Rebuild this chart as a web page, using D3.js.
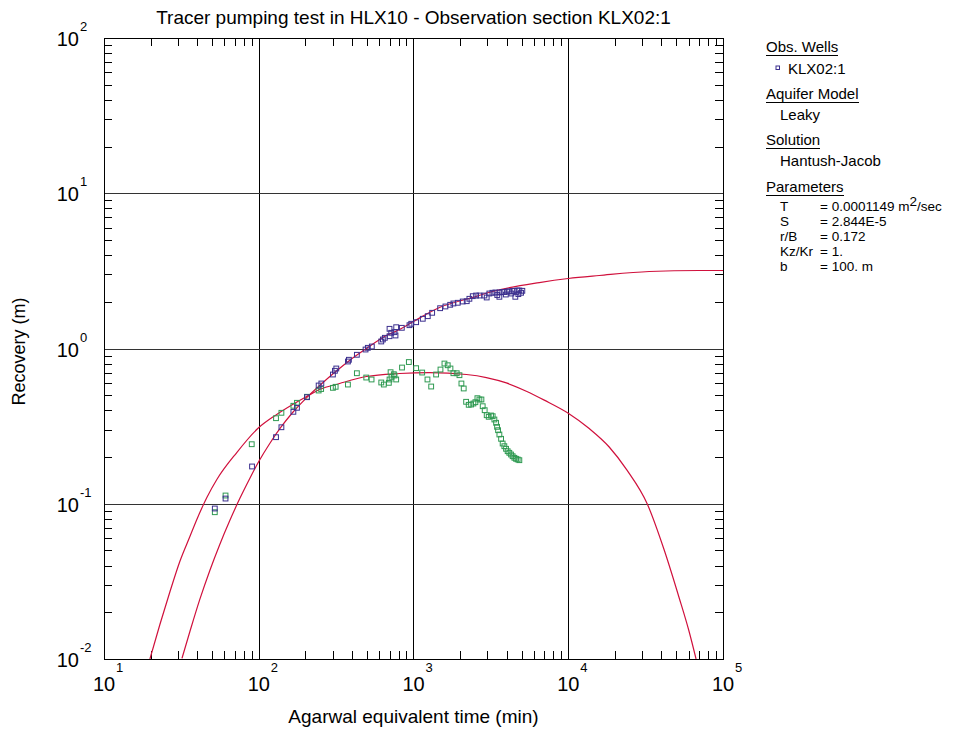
<!DOCTYPE html>
<html><head><meta charset="utf-8">
<script src="https://cdn.jsdelivr.net/npm/d3@7/dist/d3.min.js"></script>
<style>
body{margin:0;background:#fff;}
svg{display:block;font-family:Arial,"Liberation Sans",sans-serif;}
</style></head>
<body><svg id="chart" width="960" height="729"></svg>
<script>
// ---- Data ----
const titleText = "Tracer pumping test in HLX10 - Observation section KLX02:1";
const xLabel = "Agarwal equivalent time (min)";
const yLabel = "Recovery (m)";
const xTickExponents = [1, 2, 3, 4, 5];
const yTickExponents = [-2, -1, 0, 1, 2];

// observed recovery, KLX02:1
const wellTime = [52.0, 61.0, 90.5, 129.3, 140.1, 167.4, 176.6, 205, 243.8, 253.8, 301.5, 310.6, 317, 376.9, 382.5, 430.6, 490, 507, 538, 619, 634, 653, 700, 718, 700, 754, 765, 773, 840.5, 942, 967, 1040, 1148, 1237, 1320, 1486, 1608, 1726, 1811, 1932, 2080, 2208, 2297, 2415, 2538, 2666, 2871, 2972, 3092, 3236, 3381, 3478, 3589, 3589, 3751, 3864, 3950, 4038, 4160, 4290, 4354, 4486, 4550, 4690, 4760, 4830, 4955, 5050];
const wellRecovery = [0.0932, 0.108, 0.1738, 0.2684, 0.311, 0.391, 0.415, 0.4857, 0.5776, 0.595, 0.680, 0.7186, 0.7433, 0.8247, 0.846, 0.911, 0.985, 1.01, 1.03, 1.11, 1.143, 1.172, 1.20, 1.262, 1.339, 1.274, 1.213, 1.371, 1.359, 1.413, 1.443, 1.477, 1.554, 1.615, 1.698, 1.818, 1.865, 1.912, 1.95, 1.97, 2.008, 2.017, 2.09, 2.173, 2.194, 2.194, 2.194, 2.131, 2.261, 2.285, 2.295, 2.21, 2.295, 2.153, 2.312, 2.31, 2.227, 2.329, 2.329, 2.26, 2.347, 2.353, 2.153, 2.364, 2.24, 2.364, 2.285, 2.353];

// derivative of observed recovery
const derivTime = [52.0, 61.0, 90.1, 129.3, 140.1, 167.4, 176.6, 205, 243.8, 253, 301.5, 314, 376.9, 430.6, 495, 535.8, 619, 643, 693, 700, 711, 721, 746, 754, 773, 843, 933, 1040, 1138, 1231, 1301, 1400, 1494, 1585, 1664, 1733, 1811, 1902, 1981, 2040, 2111, 2188, 2274, 2357, 2438, 2512, 2588, 2666, 2747, 2800, 2884, 2972, 3062, 3170, 3248, 3332, 3417, 3467, 3520, 3589, 3681, 3767, 3864, 3963, 4058, 4160, 4268, 4371, 4486, 4598, 4710, 4830];
const derivRecovery = [0.0882, 0.113, 0.2418, 0.3557, 0.3853, 0.4276, 0.4469, 0.4886, 0.5363, 0.5483, 0.558, 0.5666, 0.586, 0.693, 0.650, 0.6316, 0.604, 0.586, 0.601, 0.6316, 0.7035, 0.657, 0.683, 0.670, 0.6316, 0.754, 0.818, 0.7468, 0.70, 0.6316, 0.569, 0.680, 0.732, 0.80, 0.78, 0.7433, 0.693, 0.693, 0.673, 0.595, 0.5527, 0.4536, 0.4338, 0.4357, 0.4422, 0.4509, 0.4786, 0.4694, 0.4694, 0.4249, 0.4005, 0.3718, 0.3631, 0.3702, 0.3664, 0.3489, 0.3322, 0.313, 0.2977, 0.2793, 0.262, 0.2443, 0.2348, 0.2259, 0.218, 0.2129, 0.2076, 0.2024, 0.1977, 0.1948, 0.1928, 0.1908];

// Hantush-Jacob type curve (recovery)
const modelTime = [31.9, 35.9, 41.6, 48.3, 56.0, 65.0, 75.4, 87.5, 100, 117.8, 138.7, 165.6, 204, 247.6, 309, 386, 497, 650, 812, 1000, 1472, 2404, 3236, 6501, 10000, 15849, 33340, 70000, 100000];
const modelRecovery = [0.0101, 0.01503, 0.0242, 0.0372, 0.0547, 0.078, 0.108, 0.1455, 0.187, 0.2445, 0.31, 0.387, 0.483, 0.578, 0.70, 0.837, 1.0, 1.195, 1.326, 1.493, 1.837, 2.131, 2.33, 2.66, 2.825, 2.952, 3.133, 3.18, 3.18];

// Hantush-Jacob type curve (derivative)
const modelDerivTime = [19.8, 22.97, 26.7, 30.9, 35.9, 39.8, 46.2, 53.6, 72.1, 98.5, 130.6, 165.6, 204, 247.6, 333, 497, 812, 1268, 2198, 2958, 3981, 5358, 7000, 10000, 13660, 18390, 24030, 32360, 41590, 52000, 60390, 66980];
const modelDerivValue = [0.01, 0.01668, 0.0272, 0.0425, 0.0615, 0.0792, 0.1097, 0.1433, 0.2138, 0.305, 0.3758, 0.4358, 0.491, 0.5445, 0.595, 0.66, 0.690, 0.70, 0.680, 0.65, 0.60, 0.531, 0.465, 0.383, 0.305, 0.232, 0.1640, 0.1, 0.0507, 0.0249, 0.01503, 0.01];

const legendSections = [
  {head: "Obs. Wells", items: ["KLX02:1"], marker: true},
  {head: "Aquifer Model", items: ["Leaky"]},
  {head: "Solution", items: ["Hantush-Jacob"]}
];
const paramNames = ["T", "S", "r/B", "Kz/Kr", "b"];
const paramValues = ["= 0.0001149 m", "= 2.844E-5", "= 0.172", "= 1.", "= 100. m"];

// ---- Chart ----
const svg = d3.select("#chart");
const L = 104, R = 723, T = 38, B = 659;
const x = d3.scaleLog().domain([10, 1e5]).range([L, R]);
const y = d3.scaleLog().domain([0.01, 100]).range([B, T]);
const blue = "#3b2f8e", green = "#2f9a52", red = "#d0103c";

svg.append("defs").append("clipPath").attr("id", "clip")
  .append("rect").attr("x", L).attr("y", T).attr("width", R - L).attr("height", B - T);

// grid
const g = svg.append("g").attr("shape-rendering", "crispEdges");
xTickExponents.slice(1, -1).forEach(e => {
  g.append("line").attr("x1", Math.round(x(Math.pow(10, e))) + 0.5).attr("x2", Math.round(x(Math.pow(10, e))) + 0.5)
    .attr("y1", T).attr("y2", B).attr("stroke", "#000");
});
yTickExponents.slice(1, -1).forEach(e => {
  g.append("line").attr("y1", Math.round(y(Math.pow(10, e))) + 0.5).attr("y2", Math.round(y(Math.pow(10, e))) + 0.5)
    .attr("x1", L).attr("x2", R).attr("stroke", "#333");
});

// minor ticks via axis generators (inside)
const xMinor = [];
for (let e = 1; e < 5; e++) for (let m = 2; m <= 9; m++) xMinor.push(m * Math.pow(10, e));
const yMinor = [];
for (let e = -2; e < 2; e++) for (let m = 2; m <= 9; m++) yMinor.push(m * Math.pow(10, e));
const tickLen = 8;
function styleAxis(sel) {
  sel.select(".domain").remove();
  sel.selectAll("text").remove();
  sel.selectAll("line").attr("stroke", "#000");
}
svg.append("g").attr("transform", `translate(0,${B})`).attr("shape-rendering", "crispEdges")
  .call(d3.axisBottom(x).tickValues(xMinor).tickSize(-tickLen)).call(styleAxis);
svg.append("g").attr("transform", `translate(0,${T})`).attr("shape-rendering", "crispEdges")
  .call(d3.axisTop(x).tickValues(xMinor).tickSize(-tickLen)).call(styleAxis);
svg.append("g").attr("transform", `translate(${L},0)`).attr("shape-rendering", "crispEdges")
  .call(d3.axisLeft(y).tickValues(yMinor).tickSize(-tickLen)).call(styleAxis);
svg.append("g").attr("transform", `translate(${R},0)`).attr("shape-rendering", "crispEdges")
  .call(d3.axisRight(y).tickValues(yMinor).tickSize(-tickLen)).call(styleAxis);

// frame
svg.append("rect").attr("x", L + 0.5).attr("y", T + 0.5).attr("width", R - L).attr("height", B - T)
  .attr("fill", "none").attr("stroke", "#000").attr("shape-rendering", "crispEdges");

// tick labels
xTickExponents.forEach(e => {
  const px = x(Math.pow(10, e));
  svg.append("text").attr("x", px).attr("y", 691).attr("font-size", 20).attr("text-anchor", "middle").text("10");
  svg.append("text").attr("x", px + 12).attr("y", 672).attr("font-size", 13).text(e);
});
yTickExponents.forEach(e => {
  const py = y(Math.pow(10, e));
  svg.append("text").attr("x", 79).attr("y", py + 8).attr("font-size", 20).attr("text-anchor", "end").text("10");
  svg.append("text").attr("x", 80).attr("y", py - 7).attr("font-size", 13).text(e);
});

// model curves
const plot = svg.append("g").attr("clip-path", "url(#clip)");
const line = d3.line().x(d => x(d[0])).y(d => y(d[1])).curve(d3.curveMonotoneX);
plot.append("path").datum(modelTime.map((t, i) => [t, modelRecovery[i]]))
  .attr("d", line).attr("fill", "none").attr("stroke", red).attr("stroke-width", 1.2);
plot.append("path").datum(modelDerivTime.map((t, i) => [t, modelDerivValue[i]]))
  .attr("d", line).attr("fill", "none").attr("stroke", red).attr("stroke-width", 1.2);

// observation markers
const ms = 4.8;
plot.selectAll("rect.deriv").data(derivTime.map((t, i) => [t, derivRecovery[i]])).enter()
  .append("rect").attr("class", "deriv")
  .attr("x", d => x(d[0]) - ms / 2).attr("y", d => y(d[1]) - ms / 2)
  .attr("width", ms).attr("height", ms).attr("fill", "none").attr("stroke", green).attr("stroke-width", 1);
plot.selectAll("rect.well").data(wellTime.map((t, i) => [t, wellRecovery[i]])).enter()
  .append("rect").attr("class", "well")
  .attr("x", d => x(d[0]) - ms / 2).attr("y", d => y(d[1]) - ms / 2)
  .attr("width", ms).attr("height", ms).attr("fill", "none").attr("stroke", blue).attr("stroke-width", 1);

// titles
svg.append("text").attr("x", (L + R) / 2).attr("y", 24).attr("text-anchor", "middle").attr("font-size", 19).text(titleText);
svg.append("text").attr("x", (L + R) / 2).attr("y", 723).attr("text-anchor", "middle").attr("font-size", 19).text(xLabel);
svg.append("text").attr("transform", `translate(25,${(T + B) / 2 + 3}) rotate(-90)`).attr("text-anchor", "middle").attr("font-size", 18).text(yLabel);

// legend
const lg = svg.append("g").attr("font-size", 15);
const hx = 766, ix = 780;
const headY = [52, 99, 145];
const itemY = [74, 120, 166];
function header(txt, yy) {
  const t = lg.append("text").attr("x", hx).attr("y", yy).text(txt);
  const w = t.node().getComputedTextLength();
  lg.append("line").attr("x1", hx).attr("x2", hx + w).attr("y1", yy + 3.5).attr("y2", yy + 3.5)
    .attr("stroke", "#000").attr("stroke-width", 1).attr("shape-rendering", "crispEdges");
}
legendSections.forEach((s, k) => {
  header(s.head, headY[k]);
  s.items.forEach(it => {
    if (s.marker) {
      lg.append("rect").attr("x", 776).attr("y", itemY[k] - 8).attr("width", 3.5).attr("height", 3.5)
        .attr("fill", "none").attr("stroke", blue).attr("stroke-width", 1);
      lg.append("text").attr("x", 788).attr("y", itemY[k]).text(it);
    } else {
      lg.append("text").attr("x", ix).attr("y", itemY[k]).text(it);
    }
  });
});
header("Parameters", 192);
const pg = lg.append("g").attr("font-size", 13.5);
paramNames.forEach((n, i) => {
  const yy = 211 + i * 15;
  pg.append("text").attr("x", ix).attr("y", yy).text(n);
  const t = pg.append("text").attr("x", 820).attr("y", yy).text(paramValues[i]);
  if (i === 0) {
    t.append("tspan").attr("dy", -5).text("2");
    t.append("tspan").attr("dy", 5).text("/sec");
  }
});
</script>
</body></html>
